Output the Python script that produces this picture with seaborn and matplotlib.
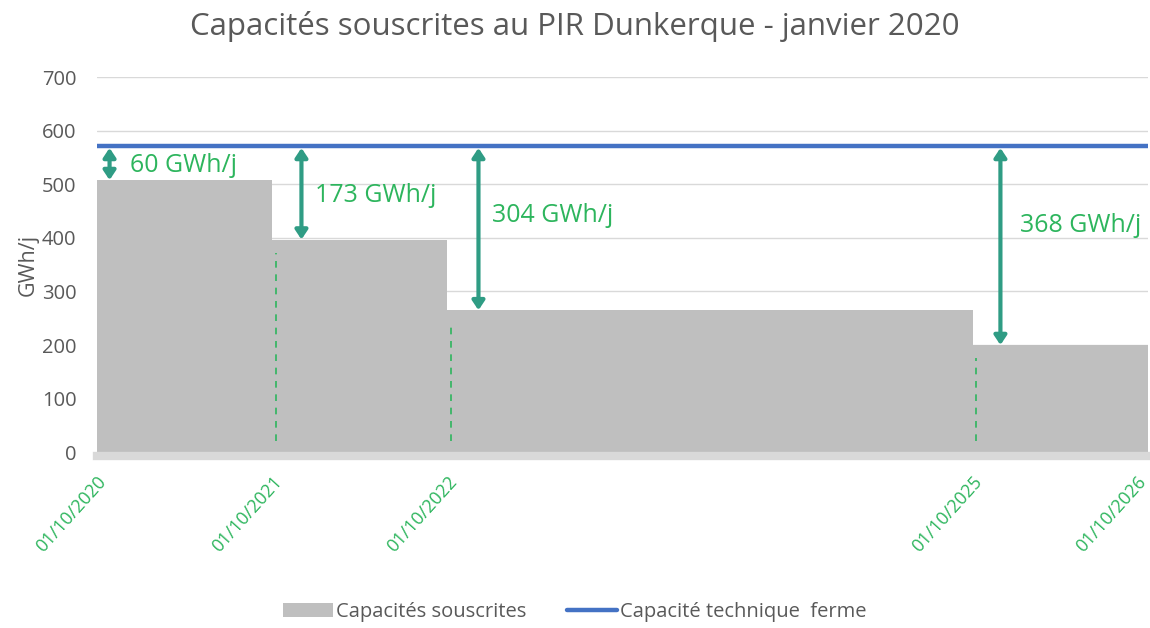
import matplotlib
matplotlib.use('Agg')
import matplotlib.pyplot as plt
import matplotlib.dates as mdates
import matplotlib.transforms as mtransforms
from matplotlib.patches import Patch
from matplotlib.lines import Line2D
import pandas as pd
import seaborn as sns

# Data
dates = ['2020-10-01', '2021-10-01', '2022-10-01', '2025-10-01', '2026-10-01']
capacites_souscrites = [508, 397, 265, 200, 200]   # GWh/j, step values
capacite_technique = 571                           # GWh/j
ecarts = ['60 GWh/j', '173 GWh/j', '304 GWh/j', '368 GWh/j']
tick_dates = ['2020-10-01', '2021-10-01', '2022-10-01', '2025-10-01', '2026-10-01']

df = pd.DataFrame({'date': pd.to_datetime(dates), 'souscrit': capacites_souscrites})
df['technique'] = capacite_technique

sns.set_theme(style='white')
plt.rcParams['font.family'] = ['Open Sans', 'DejaVu Sans']

grey_txt = '#595959'
green_txt = '#2db55d'
arrow_col = '#2f9c84'

fig = plt.figure(figsize=(11.5, 6.28), dpi=100)
ax = fig.add_axes([0.084, 0.28, 0.914, 0.597])

# gray stepped area
ax.fill_between(df['date'], 0, df['souscrit'], step='post', color='#bfbfbf', lw=0, zorder=2)

# technical capacity line
sns.lineplot(data=df, x='date', y='technique', color='#4472c4', lw=3.2, ax=ax, zorder=4)

# dashed markers at each change of capacity
for d, v in zip(df['date'][1:4], df['souscrit'][1:4]):
    ax.vlines(d + pd.Timedelta(days=8), 20, v - 25, colors=green_txt, linestyles=(0, (4, 4)), lw=1.2, zorder=3)

# double arrows and gap labels
arrow_offsets = [27, 62, 66, 58]
text_offsets = [69, 90, 94, 98]
text_y = [536, 480, 442, 424]
for i, lab in enumerate(ecarts):
    d0 = df['date'][i]
    v = df['souscrit'][i]
    xa = d0 + pd.Timedelta(days=arrow_offsets[i])
    ax.annotate('', xy=(xa, v), xytext=(xa, capacite_technique - 3),
                arrowprops=dict(arrowstyle='<|-|>,head_length=0.45,head_width=0.3',
                                color=arrow_col, lw=3, shrinkA=0, shrinkB=0), zorder=5)
    ax.text(d0 + pd.Timedelta(days=text_offsets[i]), text_y[i], lab, color=green_txt,
            fontsize=18, va='center', ha='left', zorder=5)

ax.set_xlim(df['date'].iloc[0], df['date'].iloc[-1])
ax.set_ylim(0, 700)
ax.set_yticks(range(0, 701, 100))
ax.yaxis.grid(True, color='#d9d9d9', lw=1)
ax.set_axisbelow(True)
for s in ['top', 'right', 'left']:
    ax.spines[s].set_visible(False)
ax.spines['bottom'].set_color('#d9d9d9')
ax.spines['bottom'].set_linewidth(6)
ax.spines['bottom'].set_position(('outward', 3))

ax.set_xticks(pd.to_datetime(tick_dates))
ax.xaxis.set_major_formatter(mdates.DateFormatter('%d/%m/%Y'))
ax.tick_params(axis='x', colors=green_txt, labelsize=13, length=0, pad=16, labelrotation=48)
labels = ax.get_xticklabels()
for k, lbl in enumerate(labels):
    dx = -5 if k == len(labels) - 1 else 7
    lbl.set_ha('right')
    lbl.set_va('center')
    lbl.set_rotation_mode('anchor')
    lbl.set_transform(lbl.get_transform() + mtransforms.ScaledTranslation(dx / 100, 0, fig.dpi_scale_trans))
ax.tick_params(axis='y', colors=grey_txt, labelsize=14.5, length=0, pad=14.5)

ax.set_xlabel('')
ax.set_ylabel('GWh/j', color=grey_txt, fontsize=15.5, labelpad=2)

fig.suptitle('Capacités souscrites au PIR Dunkerque - janvier 2020', color=grey_txt,
             fontsize=22.5, y=0.982)

handles = [Patch(facecolor='#bfbfbf', edgecolor='none', label='Capacités souscrites'),
           Line2D([0], [0], color='#4472c4', lw=3.2, label='Capacité technique  ferme')]
leg = fig.legend(handles=handles, loc='center', bbox_to_anchor=(0.5, 0.025), ncol=2, frameon=False,
                 fontsize=14.5, handlelength=2.5, handletextpad=0.15, columnspacing=2.0)
for t in leg.get_texts():
    t.set_color(grey_txt)

fig.savefig('out.png', dpi=100)
